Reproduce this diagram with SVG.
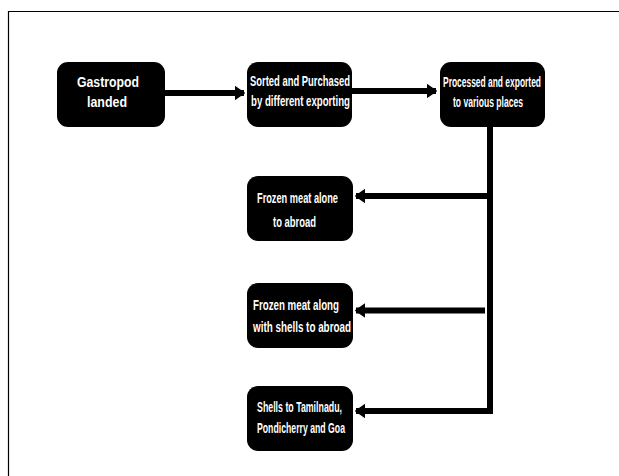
<svg xmlns="http://www.w3.org/2000/svg" width="619" height="476" viewBox="0 0 619 476">
<style>
.box{fill:#000;}
.t{fill:#fff;font-family:"Liberation Sans Narrow","Liberation Sans",Arial,sans-serif;font-weight:bold;font-size:14px;}
.ln{stroke:#000;stroke-width:6;fill:none;}
</style>
<defs>
<marker id="ah" markerWidth="1.7" markerHeight="2.4" refX="1.5" refY="1.2" orient="auto" markerUnits="strokeWidth">
<path d="M0,0 L1.7,1.2 L0,2.4 Z" fill="#000"/>
</marker>
</defs>
<rect width="619" height="476" fill="#fff"/>
<path d="M8.5,476 V11.5 H619" stroke="#000" stroke-width="1.2" fill="none"/>
<g id="connectors">
<path class="ln" d="M165,93 H244" marker-end="url(#ah)"/>
<path class="ln" d="M352,91 H436" marker-end="url(#ah)"/>
<path class="ln" d="M490,127 V411 H356" marker-end="url(#ah)"/>
<path class="ln" d="M490,196 H356" marker-end="url(#ah)"/>
<path class="ln" d="M485,310.5 H356" marker-end="url(#ah)"/>
</g>
<g id="n1"><rect class="box" x="57" y="62" width="108" height="65" rx="11"/>
<text class="t" x="77" y="87" textLength="62" lengthAdjust="spacingAndGlyphs">Gastropod</text><text class="t" x="87" y="107" textLength="40" lengthAdjust="spacingAndGlyphs">landed</text></g>
<g id="n2"><rect class="box" x="247" y="62" width="105" height="65" rx="11"/>
<text class="t" x="250" y="86" textLength="100" lengthAdjust="spacingAndGlyphs">Sorted and Purchased</text><text class="t" x="251" y="106" textLength="99" lengthAdjust="spacingAndGlyphs">by different exporting</text></g>
<g id="n3"><rect class="box" x="440" y="62" width="105" height="65" rx="11"/>
<text class="t" x="443" y="87" textLength="98" lengthAdjust="spacingAndGlyphs">Processed and exported</text><text class="t" x="453" y="107" textLength="70" lengthAdjust="spacingAndGlyphs">to various places</text></g>
<g id="n4"><rect class="box" x="247" y="176" width="106" height="65" rx="11"/>
<text class="t" x="257" y="203" textLength="81" lengthAdjust="spacingAndGlyphs">Frozen meat alone</text><text class="t" x="273" y="227" textLength="43" lengthAdjust="spacingAndGlyphs">to abroad</text></g>
<g id="n5"><rect class="box" x="247" y="283" width="106" height="65" rx="11"/>
<text class="t" x="253" y="310" textLength="86" lengthAdjust="spacingAndGlyphs">Frozen meat along</text><text class="t" x="253" y="332" textLength="98" lengthAdjust="spacingAndGlyphs">with shells to abroad</text></g>
<g id="n6"><rect class="box" x="247" y="386" width="106" height="65" rx="11"/>
<text class="t" x="257" y="412" textLength="85" lengthAdjust="spacingAndGlyphs">Shells to Tamilnadu,</text><text class="t" x="257" y="433" textLength="88" lengthAdjust="spacingAndGlyphs">Pondicherry and Goa</text></g>
</svg>
